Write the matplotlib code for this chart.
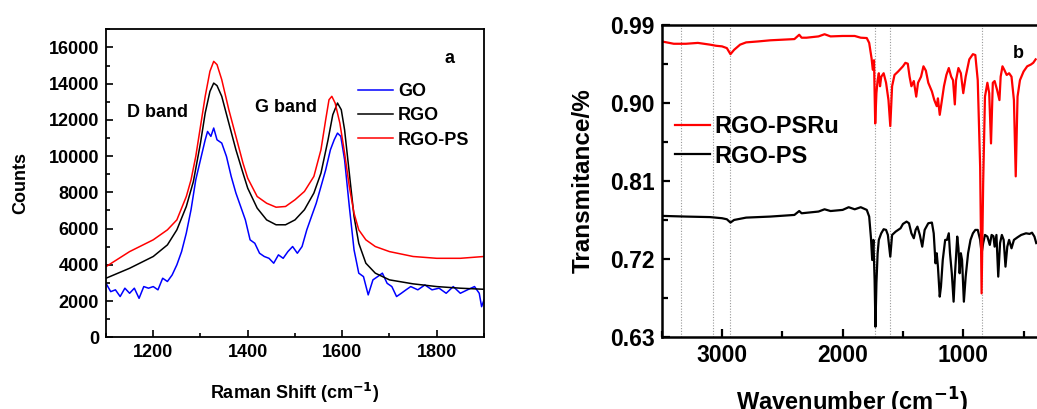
import numpy as np
import matplotlib
matplotlib.use('Agg')
import matplotlib.pyplot as plt
from matplotlib.ticker import MultipleLocator

plt.rcParams['font.family'] = ['Liberation Sans', 'DejaVu Sans']
plt.rcParams['font.weight'] = 'bold'

# ---- panel a: Raman spectra ----
ramanX = [1100, 1110, 1120, 1130, 1140, 1150, 1160, 1170, 1180, 1190, 1200, 1210, 1220, 1230,
          1240, 1250, 1260, 1270, 1280, 1290, 1300, 1310, 1315, 1322, 1328, 1335, 1345, 1355,
          1365, 1375, 1385, 1395, 1405, 1415, 1425, 1435, 1445, 1455, 1465, 1475, 1485, 1495,
          1505, 1515, 1525, 1535, 1545, 1555, 1565, 1575, 1583, 1590, 1597, 1605, 1615, 1625,
          1635, 1645, 1655, 1665, 1675, 1685, 1695, 1705, 1715, 1725, 1735, 1745, 1760, 1775,
          1790, 1805, 1820, 1835, 1850, 1865, 1880, 1890, 1895, 1900]
go = [2980, 2520, 2620, 2250, 2710, 2430, 2710, 2150, 2800, 2710, 2800, 2620, 3260, 3080,
      3440, 4000, 4730, 5750, 7040, 8690, 9800, 10900, 11360, 11090, 11550, 10900, 10720, 9980,
      8880, 7960, 7220, 6480, 5380, 5190, 4640, 4460, 4360, 4090, 4550, 4360, 4730, 5010,
      4640, 5010, 5930, 6670, 7400, 8320, 9240, 10350, 10900, 11270, 11090, 9800, 7220, 4830,
      3540, 3350, 2340, 3170, 3350, 3540, 2980, 2800, 2250, 2430, 2620, 2800, 2620, 2890,
      2620, 2710, 2430, 2800, 2430, 2620, 2800, 2430, 1690, 2060]

rgoX = [1100, 1150, 1200, 1230, 1250, 1270, 1285, 1300, 1310, 1320, 1328, 1335, 1345, 1360,
        1375, 1390, 1400, 1420, 1440, 1460, 1480, 1500, 1520, 1540, 1555, 1570, 1580, 1590,
        1598, 1605, 1615, 1625, 1635, 1650, 1670, 1700, 1750, 1800, 1850, 1900]
rgo = [3260, 3810, 4460, 5100, 5930, 7220, 8600, 10720, 12380, 13570, 14030, 13890, 13300, 11820,
       10350, 9060, 8230, 7130, 6480, 6210, 6210, 6480, 7040, 7960, 9060, 10900, 12280, 12930,
       12560, 11450, 9060, 6670, 5190, 4090, 3540, 3170, 2950, 2800, 2710, 2650]

rgopsX = [1100, 1150, 1200, 1230, 1250, 1270, 1280, 1290, 1300, 1310, 1320, 1328, 1335, 1345,
          1360, 1375, 1390, 1400, 1420, 1440, 1460, 1480, 1500, 1520, 1540, 1555, 1565, 1572,
          1578, 1585, 1595, 1605, 1615, 1625, 1635, 1650, 1670, 1700, 1750, 1800, 1850, 1900]
rgops = [3900, 4730, 5380, 5930, 6480, 7770, 8690, 9980, 11640, 13300, 14680, 15230, 15050, 14220,
         12560, 11090, 9610, 8780, 7770, 7400, 7180, 7220, 7590, 8050, 8880, 10350, 12010, 13110,
         13300, 12930, 11820, 10170, 8320, 6850, 5930, 5380, 5010, 4730, 4460, 4360, 4360, 4460]

# ---- panel b: FTIR spectra ----
irRedX = [3500, 3400, 3300, 3200, 3100, 3050, 3000, 2960, 2930, 2900, 2850, 2800, 2700, 2600,
          2500, 2400, 2360, 2340, 2300, 2200, 2150, 2100, 2000, 1900, 1850, 1800, 1780, 1760,
          1750, 1740, 1730, 1720, 1710, 1700, 1690, 1680, 1660, 1640, 1620, 1605, 1590, 1570,
          1540, 1500, 1480, 1460, 1445, 1430, 1410, 1390, 1375, 1350, 1330, 1310, 1290, 1260,
          1240, 1220, 1210, 1195, 1180, 1160, 1140, 1120, 1100, 1085, 1070, 1060, 1040, 1020,
          1000, 980, 950, 920, 900, 880, 860, 848, 835, 820, 800, 785, 770, 755, 740, 720,
          700, 690, 675, 660, 640, 620, 600, 580, 565, 550, 530, 500, 470, 440, 420, 400]
rgoPSRu = [0.9707, 0.968, 0.968, 0.969, 0.967, 0.9657, 0.965, 0.963, 0.956, 0.961, 0.967, 0.9696,
           0.9707, 0.972, 0.9727, 0.9734, 0.9784, 0.975, 0.975, 0.9765, 0.979, 0.9765, 0.977, 0.977,
           0.975, 0.9746, 0.969, 0.951, 0.938, 0.949, 0.876, 0.911, 0.926, 0.934, 0.919, 0.930,
           0.934, 0.923, 0.903, 0.873, 0.919, 0.932, 0.936, 0.942, 0.946, 0.945, 0.930, 0.919,
           0.925, 0.907, 0.923, 0.930, 0.942, 0.937, 0.923, 0.913, 0.903, 0.896, 0.905, 0.886,
           0.900, 0.919, 0.932, 0.940, 0.930, 0.926, 0.898, 0.926, 0.940, 0.934, 0.911, 0.930,
           0.950, 0.956, 0.955, 0.926, 0.826, 0.680, 0.807, 0.907, 0.923, 0.911, 0.853, 0.923,
           0.925, 0.915, 0.903, 0.930, 0.942, 0.938, 0.932, 0.934, 0.930, 0.903, 0.815, 0.907,
           0.926, 0.936, 0.942, 0.944, 0.946, 0.950]

irBlackX = [3500, 3300, 3100, 3000, 2960, 2930, 2900, 2800, 2600, 2400, 2360, 2340, 2200, 2150,
            2100, 2000, 1950, 1900, 1850, 1800, 1780, 1765, 1755, 1745, 1735, 1728, 1720, 1710,
            1700, 1680, 1660, 1640, 1625, 1605, 1590, 1560, 1520, 1500, 1470, 1450, 1430, 1410,
            1395, 1380, 1360, 1340, 1320, 1290, 1260, 1245, 1230, 1220, 1210, 1195, 1185, 1170,
            1150, 1135, 1120, 1110, 1095, 1080, 1070, 1060, 1050, 1040, 1030, 1020, 1010, 995,
            980, 960, 940, 920, 900, 880, 860, 848, 835, 820, 800, 780, 765, 750, 740, 725,
            710, 695, 680, 665, 650, 635, 620, 600, 580, 550, 520, 480, 450, 430, 410, 395]
rgoPS = [0.7694, 0.7686, 0.768, 0.7667, 0.7655, 0.7617, 0.7647, 0.7674, 0.7686, 0.7705, 0.775,
         0.7724, 0.7744, 0.777, 0.775, 0.7763, 0.7794, 0.777, 0.7794, 0.7763, 0.7686, 0.7436,
         0.7185, 0.7417, 0.6955, 0.6415, 0.6917, 0.7263, 0.7417, 0.7493, 0.754, 0.7532, 0.7474,
         0.7223, 0.7474, 0.7513, 0.7551, 0.7601, 0.7628, 0.7609, 0.7493, 0.7436, 0.7532, 0.757,
         0.7474, 0.7339, 0.7532, 0.7609, 0.7617, 0.7493, 0.7147, 0.7263, 0.7108, 0.6762, 0.6877,
         0.7185, 0.7417, 0.7417, 0.7493, 0.7263, 0.7032, 0.6704, 0.6993, 0.7223, 0.7455, 0.732,
         0.7032, 0.7263, 0.7185, 0.6704, 0.6993, 0.7263, 0.7417, 0.7493, 0.7532, 0.7532, 0.7417,
         0.7263, 0.738, 0.7474, 0.7455, 0.7359, 0.7474, 0.746, 0.7339, 0.7474, 0.6993, 0.738,
         0.7474, 0.7417, 0.7108, 0.7339, 0.7417, 0.732, 0.7417, 0.7447, 0.7474, 0.7493, 0.7486,
         0.75, 0.7455, 0.738]

markLines = [3340, 3075, 2937, 1735, 1606, 848]

fig = plt.figure(figsize=(10.37, 4.09), dpi=100)

# panel a
ax1 = fig.add_axes([0.1022, 0.1753, 0.3645, 0.7531])
ax1.plot(ramanX, go, color='#0000ff', lw=1.1, label='GO')
ax1.plot(rgoX, rgo, color='black', lw=1.1, label='RGO')
ax1.plot(rgopsX, rgops, color='#ff0000', lw=1.1, label='RGO-PS')
ax1.set_xlim(1100, 1900)
ax1.set_ylim(0, 17000)
ax1.xaxis.set_major_locator(MultipleLocator(200))
ax1.xaxis.set_minor_locator(MultipleLocator(100))
ax1.yaxis.set_major_locator(MultipleLocator(2000))
ax1.yaxis.set_minor_locator(MultipleLocator(1000))
ax1.tick_params(which='both', direction='in', labelsize=13, width=1.2, pad=5)
ax1.tick_params(which='major', length=5)
ax1.tick_params(which='minor', length=3)
for s in ax1.spines.values():
    s.set_linewidth(1.3)
ax1.set_xlabel('Raman Shift (cm$^{\\mathbf{-1}}$)', fontsize=13, fontweight='bold', labelpad=14)
ax1.set_ylabel('Counts', fontsize=13, fontweight='bold', labelpad=14)
ax1.text(1210, 12400, 'D band', fontsize=13, fontweight='bold', ha='center', va='center')
ax1.text(1482, 12700, 'G band', fontsize=13, fontweight='bold', ha='center', va='center')
ax1.text(0.91, 0.905, 'a', transform=ax1.transAxes, fontsize=13, fontweight='bold', ha='center', va='center')
ax1.legend(loc='upper left', bbox_to_anchor=(0.668, 0.825), frameon=False, fontsize=13,
           handlelength=1.9, handletextpad=0.3, labelspacing=0.4, borderpad=0, borderaxespad=0)

# panel b
ax2 = fig.add_axes([0.6381, 0.1768, 0.3664, 0.7628])
for w in markLines:
    ax2.axvline(w, color='#999999', lw=0.8, ls=(0, (1, 1.5)))
ax2.plot(irBlackX, rgoPS, color='black', lw=1.6, label='RGO-PS')
ax2.plot(irRedX, rgoPSRu, color='#ff0000', lw=1.6, label='RGO-PSRu')
ax2.set_xlim(3500, 350)
ax2.set_ylim(0.63, 0.99)
ax2.xaxis.set_major_locator(MultipleLocator(1000))
ax2.xaxis.set_minor_locator(MultipleLocator(500))
ax2.set_yticks([0.63, 0.72, 0.81, 0.90, 0.99])
ax2.set_yticklabels(['0.63', '0.72', '0.81', '0.90', '0.99'])
ax2.yaxis.set_minor_locator(MultipleLocator(0.045))
ax2.tick_params(which='both', direction='in', labelsize=16.5, width=1.6, pad=5)
ax2.tick_params(which='major', length=6)
ax2.tick_params(which='minor', length=4)
for s in ax2.spines.values():
    s.set_linewidth(1.8)
ax2.set_xlabel('Wavenumber (cm$^{\\mathbf{-1}}$)', fontsize=17, fontweight='bold', labelpad=14)
ax2.set_ylabel('Transmitance/%', fontsize=17.5, fontweight='bold', labelpad=11)
ax2.text(1000 - (1018 - 963.3) / 0.1206, 0.957, 'b', fontsize=13, fontweight='bold', ha='center', va='center')
h, l = ax2.get_legend_handles_labels()
ax2.legend(h[::-1], l[::-1], loc='upper left', bbox_to_anchor=(0.035, 0.71), frameon=False, fontsize=17,
           handlelength=1.5, handletextpad=0.15, labelspacing=0.27, borderpad=0, borderaxespad=0)

fig.savefig('out.png', dpi=100)
